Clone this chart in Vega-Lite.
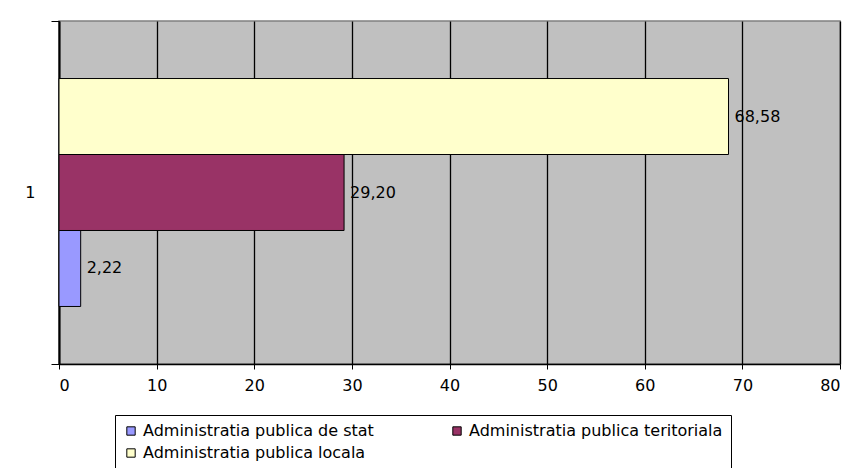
{
  "$schema": "https://vega.github.io/schema/vega-lite/v6.json",
  "width": 781,
  "height": 343,
  "autosize": {"type": "none"},
  "padding": {"left": 59, "top": 21, "right": 21, "bottom": 104},
  "background": "white",
  "data": {"values": [
    {"cat": "1", "series": "Administratia publica de stat", "value": 2.22, "label": "2,22"},
    {"cat": "1", "series": "Administratia publica teritoriala", "value": 29.20, "label": "29,20"},
    {"cat": "1", "series": "Administratia publica locala", "value": 68.58, "label": "68,58"}
  ]},
  "encoding": {
    "y": {
      "field": "cat", "type": "nominal",
      "scale": {"paddingInner": 0, "paddingOuter": 0},
      "axis": {
        "title": null, "grid": false, "domainColor": "black", "domainWidth": 2,
        "tickBand": "extent", "tickSize": 8, "tickColor": "black", "tickWidth": 1,
        "labelPadding": 16, "labelFont": "DejaVu Sans", "labelFontSize": 16, "labelColor": "black", "labelAngle": 0
      }
    },
    "yOffset": {
      "field": "series", "type": "nominal",
      "sort": ["Administratia publica locala", "Administratia publica teritoriala", "Administratia publica de stat"],
      "scale": {"paddingInner": 0, "paddingOuter": 0.757}
    }
  },
  "layer": [
    {
      "mark": {"type": "bar", "stroke": "black", "strokeWidth": 1},
      "encoding": {
        "x": {
          "field": "value", "type": "quantitative",
          "scale": {"domain": [0, 80], "nice": false},
          "axis": {
            "title": null, "values": [0, 10, 20, 30, 40, 50, 60, 70, 80],
            "grid": true, "gridColor": "black", "gridWidth": 1.3, "gridOpacity": 1,
            "domainColor": "black", "domainWidth": 1.5,
            "tickColor": "black", "tickSize": 5, "tickWidth": 1,
            "labelFont": "DejaVu Sans", "labelFontSize": 16, "labelColor": "black", "labelPadding": 8
          }
        },
        "color": {
          "field": "series", "type": "nominal",
          "scale": {
            "domain": ["Administratia publica de stat", "Administratia publica teritoriala", "Administratia publica locala"],
            "range": ["#9999FF", "#993366", "#FFFFCC"]
          },
          "legend": {
            "orient": "none", "legendX": 56, "legendY": 394,
            "direction": "horizontal", "columns": 2, "title": null,
            "symbolType": "square", "symbolSize": 70, "symbolStrokeColor": "black", "symbolStrokeWidth": 1, "symbolOpacity": 1,
            "labelFont": "DejaVu Sans", "labelFontSize": 16, "labelColor": "black", "labelOffset": 4, "labelLimit": 500,
            "columnPadding": 75, "rowPadding": 6, "padding": 8,
            "strokeColor": "black", "fillColor": "white"
          }
        }
      }
    },
    {
      "mark": {"type": "text", "align": "left", "baseline": "middle", "dx": 6, "font": "DejaVu Sans", "fontSize": 16, "color": "black"},
      "encoding": {
        "x": {"field": "value", "type": "quantitative"},
        "text": {"field": "label"}
      }
    }
  ],
  "config": {
    "view": {"fill": "#C0C0C0", "stroke": "#808080", "strokeWidth": 1.5}
  }
}
